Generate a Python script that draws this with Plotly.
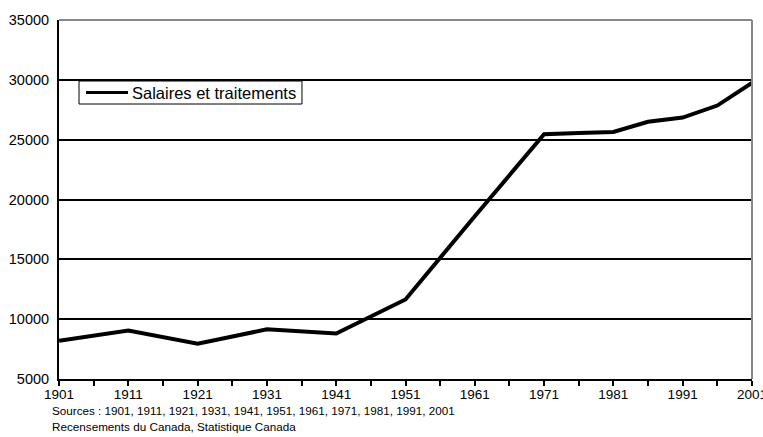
import plotly.graph_objects as go

years = [1901, 1911, 1921, 1931, 1941, 1951, 1961, 1971, 1976, 1981, 1986, 1991, 1996, 2001]
salaires = [8200, 9050, 7950, 9150, 8800, 11650, 18600, 25450, 25550, 25650, 26500, 26850, 27850, 29750]
tick_years = [1901, 1911, 1921, 1931, 1941, 1951, 1961, 1971, 1981, 1991, 2001]
y_ticks = [5000, 10000, 15000, 20000, 25000, 30000, 35000]
series_name = "Salaires et traitements"
source_lines = ["Sources : 1901, 1911, 1921, 1931, 1941, 1951, 1961, 1971, 1981, 1991, 2001",
                "Recensements du Canada, Statistique Canada"]

fig = go.Figure()
fig.add_trace(go.Scatter(x=years, y=salaires, mode="lines", name=series_name,
                         line=dict(color="black", width=4), showlegend=False))

fig.update_layout(
    width=763, height=437,
    margin=dict(l=59, r=11, t=20, b=58),
    paper_bgcolor="white", plot_bgcolor="white",
    font=dict(family="Liberation Sans, Arial, sans-serif", color="black", size=12),
    xaxis=dict(range=[1900.99, 2001.01], tickvals=tick_years, ticktext=[str(t) for t in tick_years],
               showgrid=False, zeroline=False, showline=True, linecolor="black", linewidth=2,
               ticks="outside", ticklen=5, tickcolor="black", tickwidth=2,
               minor=dict(ticks="outside", dtick=5, tick0=1901, ticklen=5, tickcolor="black", tickwidth=2),
               tickfont=dict(size=13.5), ticklabelstandoff=-3, ticklabeloverflow="allow",
               automargin=False, fixedrange=True),
    yaxis=dict(range=[5000, 35000], tickvals=y_ticks, ticktext=[str(t) for t in y_ticks],
               showgrid=True, gridcolor="black", gridwidth=1.5, zeroline=False,
               showline=True, linecolor="black", linewidth=2, ticks="",
               tickfont=dict(size=14.5), ticklabelstandoff=5, automargin=False),
)

# frame (top and right borders, grey)
fig.add_shape(type="line", xref="paper", yref="paper", x0=0, x1=1, y0=1, y1=1,
              line=dict(color="#888888", width=2))
fig.add_shape(type="line", xref="paper", yref="paper", x0=1, x1=1, y0=0, y1=1,
              line=dict(color="#888888", width=2))

# legend box
fig.add_shape(type="rect", xref="paper", yref="paper", x0=0.0289, x1=0.3506, y0=0.766, y1=0.830,
              line=dict(color="black", width=1), fillcolor="white", layer="above")
fig.add_shape(type="line", xref="paper", yref="paper", x0=0.039, x1=0.0996, y0=0.798, y1=0.798,
              line=dict(color="black", width=3), layer="above")
fig.add_annotation(text=series_name, xref="paper", yref="paper", x=0.1025, y=0.798,
                   xanchor="left", yanchor="middle", showarrow=False, font=dict(size=16.5))

fig.add_annotation(text=source_lines[0], xref="paper", yref="paper", x=-0.013, y=-0.0636,
                   xanchor="left", yanchor="top", showarrow=False, font=dict(size=11.7))
fig.add_annotation(text=source_lines[1], xref="paper", yref="paper", x=-0.013, y=-0.1086,
                   xanchor="left", yanchor="top", showarrow=False, font=dict(size=11.7))

fig.write_html("out.html", config={"displayModeBar": False},
               post_script="document.body.style.margin='0';document.body.style.overflow='hidden';")
